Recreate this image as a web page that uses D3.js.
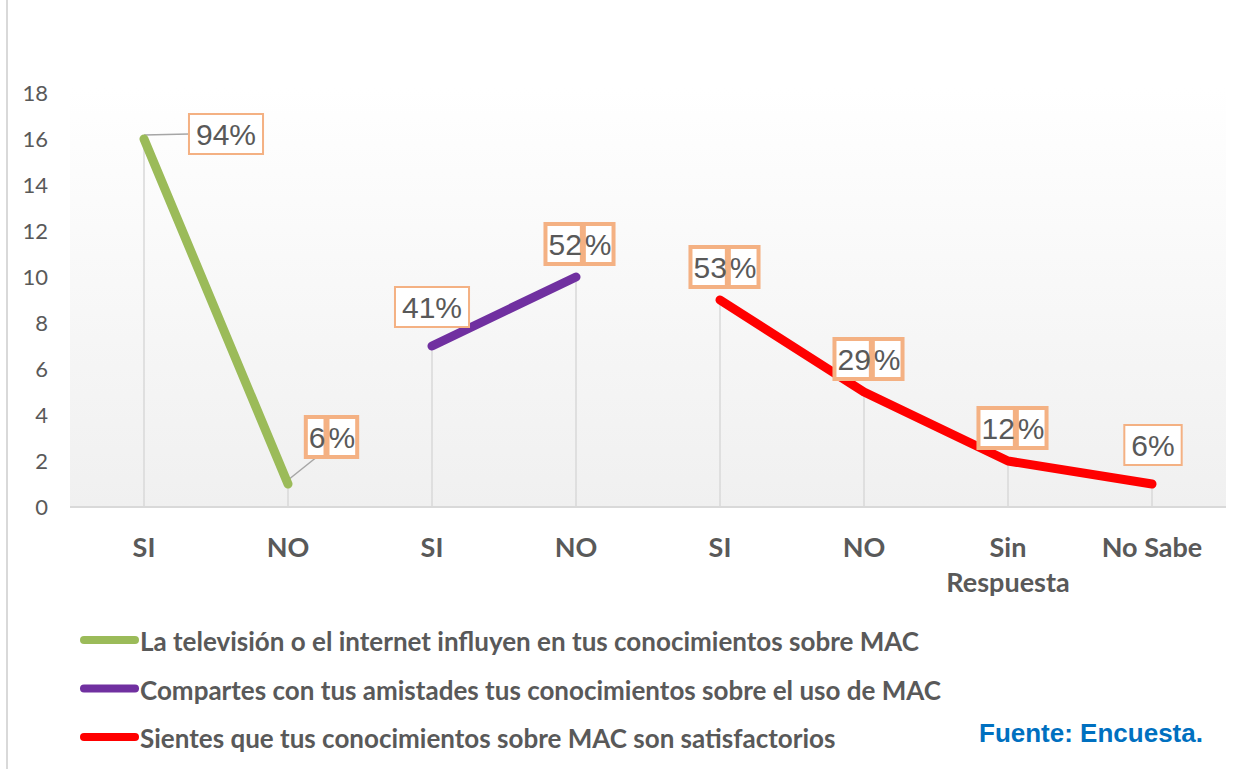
<!DOCTYPE html>
<html>
<head>
<meta charset="utf-8">
<script src="https://cdn.jsdelivr.net/npm/d3@7"></script>
<style>
  body { margin: 0; background: #fff; }
  svg { display: block; }
</style>
</head>
<body>
<div class="canva"></div>
<script>
// categories on the x axis (SI / NO repeat, so positions are by index)
const categories = ["SI", "NO", "SI", "NO", "SI", "NO", "Sin Respuesta", "No Sabe"];

// series
const seriesNames = [
  "La televisión o el internet influyen en tus conocimientos sobre MAC",
  "Compartes con tus amistades tus conocimientos sobre el uso de MAC",
  "Sientes que tus conocimientos sobre MAC son satisfactorios"
];
const seriesColors = ["#9bbb59", "#7030a0", "#ff0000"];
const seriesStart = [0, 2, 4];           // first category index of each series
const tvValues = [16, 1];
const amistadesValues = [7, 10];
const satisfValues = [9, 5, 2, 1];
const tvLabels = ["94%", "6%"];
const amistadesLabels = ["41%", "52%"];
const satisfLabels = ["53%", "29%", "12%", "6%"];

const yTicks = [0, 2, 4, 6, 8, 10, 12, 14, 16, 18];

const W = 1253, H = 769;
const svg = d3.select(".canva").append("svg")
  .attr("width", W).attr("height", H);

const x = d3.scaleBand()
  .domain(d3.range(categories.length))
  .range([72, 1224]);
const cx = i => x(i) + x.bandwidth() / 2;

const y = d3.scaleLinear()
  .domain([0, 18])
  .range([507, 93]);

const textColor = "#595959";

// outer border fragment on left
svg.append("line")
  .attr("x1", 7).attr("x2", 7).attr("y1", 0).attr("y2", H)
  .attr("stroke", "#d9d9d9").attr("stroke-width", 2);

// plot area gradient
const defs = svg.append("defs");
const grad = defs.append("linearGradient")
  .attr("id", "plotGrad").attr("x1", 0).attr("x2", 0).attr("y1", 0).attr("y2", 1);
grad.append("stop").attr("offset", "0%").attr("stop-color", "#ffffff");
grad.append("stop").attr("offset", "100%").attr("stop-color", "#f0f0f0");

svg.append("rect")
  .attr("x", 70).attr("y", 88)
  .attr("width", 1156).attr("height", y(0) - 88)
  .attr("fill", "url(#plotGrad)");

// y tick labels
svg.append("g").selectAll("text")
  .data(yTicks).join("text")
  .attr("x", 48).attr("y", d => y(d))
  .attr("dy", "0.35em")
  .attr("text-anchor", "end")
  .attr("font-family", "Lato, 'Noto Sans', sans-serif")
  .attr("font-size", 22)
  .attr("fill", textColor)
  .text(d => d);

// x axis line
svg.append("line")
  .attr("x1", 70).attr("x2", 1226)
  .attr("y1", y(0)).attr("y2", y(0))
  .attr("stroke", "#d9d9d9").attr("stroke-width", 2);

// x category labels
const xLab = svg.append("g").selectAll("text")
  .data(categories).join("text")
  .attr("x", (d, i) => cx(i))
  .attr("y", 557)
  .attr("text-anchor", "middle")
  .attr("font-family", "Lato, 'Noto Sans', sans-serif")
  .attr("font-weight", "bold")
  .attr("font-size", 27)
  .attr("fill", textColor);
xLab.each(function(d, i) {
  const words = d.split(" ");
  const t = d3.select(this);
  if (d === "Sin Respuesta") {
    words.forEach((w, k) => t.append("tspan").attr("x", cx(i)).attr("dy", k ? 35 : 0).text(w));
  } else {
    t.text(d);
  }
});

// series data
const allValues = [tvValues, amistadesValues, satisfValues];
const allLabels = [tvLabels, amistadesLabels, satisfLabels];
const series = allValues.map((vals, s) => ({
  name: seriesNames[s],
  color: seriesColors[s],
  points: vals.map((v, k) => ({ i: seriesStart[s] + k, v: v, label: allLabels[s][k] }))
}));

// drop lines
const allPoints = series.flatMap(s => s.points);
svg.append("g").selectAll("line")
  .data(allPoints).join("line")
  .attr("x1", d => cx(d.i)).attr("x2", d => cx(d.i))
  .attr("y1", d => y(d.v)).attr("y2", y(0))
  .attr("stroke", "#d9d9d9").attr("stroke-width", 1.5);

// leader lines sit under lines and labels
const leaderG = svg.append("g");

// lines
const line = d3.line().x(d => cx(d.i)).y(d => y(d.v));
svg.append("g").selectAll("path")
  .data(series).join("path")
  .attr("d", d => line(d.points))
  .attr("fill", "none")
  .attr("stroke", d => d.color)
  .attr("stroke-width", 9)
  .attr("stroke-linecap", "round")
  .attr("stroke-linejoin", "round");

// data label placement (offset from point, split = doubled box look)
const labelLayout = [
  { dx: 82, dy: -5, split: false, leader: true },
  { dx: 44, dy: -47, split: true, leader: true },
  { dx: 0, dy: -39, split: false },
  { dx: 4, dy: -33, split: true },
  { dx: 5, dy: -33, split: true },
  { dx: 5, dy: -33, split: true },
  { dx: 5, dy: -33, split: true },
  { dx: 1, dy: -39, split: false }
];

const boxColor = "#f4b183";
const labFont = "'Liberation Sans', Arial, sans-serif";
const labSize = 30;
const labG = svg.append("g");

allPoints.forEach((p, k) => {
  const L = labelLayout[k];
  const px = cx(p.i), py = y(p.v);
  const lx = px + L.dx, ly = py + L.dy;
  const g = labG.append("g");
  const boxH = 40;

  if (!L.split) {
    const t = g.append("text")
      .attr("x", lx).attr("y", ly).attr("dy", "0.36em")
      .attr("text-anchor", "middle")
      .attr("font-family", labFont).attr("font-size", labSize)
      .attr("fill", textColor).text(p.label);
    const w = t.node().getComputedTextLength() + 14;
    g.insert("rect", "text")
      .attr("x", lx - w / 2).attr("y", ly - boxH / 2)
      .attr("width", w).attr("height", boxH)
      .attr("fill", "#fff").attr("stroke", boxColor).attr("stroke-width", 2);
    if (L.leader) {
      leaderG.append("line")
        .attr("x1", px).attr("y1", py - 4)
        .attr("x2", lx - w / 2).attr("y2", py - 5)
        .attr("stroke", "#a6a6a6").attr("stroke-width", 1.5);
    }
  } else {
    const num = p.label.replace("%", "");
    const tn = g.append("text")
      .attr("font-family", labFont).attr("font-size", labSize)
      .attr("fill", textColor).attr("y", ly).attr("dy", "0.36em").text(num);
    const tp = g.append("text")
      .attr("font-family", labFont).attr("font-size", labSize)
      .attr("fill", textColor).attr("y", ly).attr("dy", "0.36em").text("%");
    const wn = tn.node().getComputedTextLength();
    const wp = tp.node().getComputedTextLength();
    const gap = 3;
    const total = wn + gap + wp;
    const x0 = lx - total / 2;
    tn.attr("x", x0);
    tp.attr("x", x0 + wn + gap);
    // digits box
    g.insert("rect", "text")
      .attr("x", x0 - 3).attr("y", ly - boxH / 2)
      .attr("width", wn + 3).attr("height", boxH)
      .attr("fill", "#fff").attr("stroke", boxColor).attr("stroke-width", 4);
    // percent box
    g.insert("rect", "text")
      .attr("x", x0 + wn + gap - 1).attr("y", ly - boxH / 2)
      .attr("width", wp + 3).attr("height", boxH)
      .attr("fill", "#fff").attr("stroke", boxColor).attr("stroke-width", 4);
    if (L.leader) {
      leaderG.append("line")
        .attr("x1", px).attr("y1", py - 4)
        .attr("x2", x0 + 8).attr("y2", ly + boxH / 2)
        .attr("stroke", "#a6a6a6").attr("stroke-width", 1.5);
    }
  }
});

// legend
const legend = svg.append("g").selectAll("g")
  .data(series).join("g")
  .attr("transform", (d, i) => `translate(0, ${640 + i * 48.5})`);
legend.append("line")
  .attr("x1", 84).attr("x2", 135)
  .attr("stroke", d => d.color)
  .attr("stroke-width", 8)
  .attr("stroke-linecap", "round");
legend.append("text")
  .attr("x", 140).attr("y", 2)
  .attr("dy", "0.35em")
  .attr("font-family", "Lato, 'Noto Sans', sans-serif")
  .attr("font-weight", "bold")
  .attr("font-size", 26)
  .attr("fill", textColor)
  .text(d => d.name);

// source note
svg.append("text")
  .attr("x", 979).attr("y", 742)
  .attr("font-family", "'Liberation Sans', Arial, sans-serif")
  .attr("font-weight", "bold")
  .attr("font-size", 26)
  .attr("fill", "#0070c0")
  .text("Fuente: Encuesta.");
</script>
</body>
</html>
